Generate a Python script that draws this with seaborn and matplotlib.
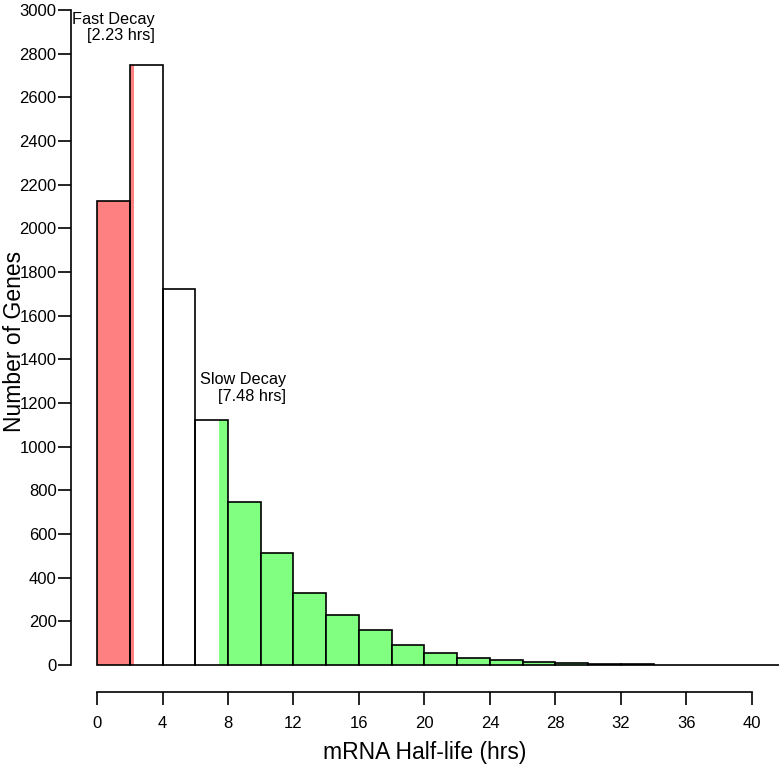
import numpy as np
import pandas as pd
import matplotlib
matplotlib.use('Agg')
import matplotlib.pyplot as plt
import seaborn as sns

# ----------------------------------------------------------
# Data (bins of 2 hrs)
# ----------------------------------------------------------
bin_edges = list(range(0, 44, 2))
gene_counts = [2125, 2750, 1720, 1120, 745, 515, 330, 228, 160, 92,
               56, 34, 22, 15, 9, 5, 3, 2, 1, 1, 1]
fast_cutoff = 2.23   # hrs
slow_cutoff = 7.48   # hrs
x_ticks = list(range(0, 41, 4))
y_ticks = list(range(0, 3001, 200))

red = '#FF8080'
green = '#80FF80'

bin_width = bin_edges[1] - bin_edges[0]
df = pd.DataFrame({'half_life': np.array(bin_edges[:-1]) + bin_width / 2,
                   'genes': gene_counts})
df['group'] = np.where(df['half_life'] < fast_cutoff, 'fast',
                       np.where(df['half_life'] > slow_cutoff, 'slow', 'mid'))

# ----------------------------------------------------------
# Plot
# ----------------------------------------------------------
sns.set_style('ticks')
plt.rcParams['font.family'] = ['Liberation Sans', 'DejaVu Sans']
plt.rcParams['text.color'] = 'black'
plt.rcParams['axes.labelcolor'] = 'black'

fig = plt.figure(figsize=(7.84, 7.70), dpi=100)
ax = fig.add_axes([71 / 784, 1 - 675 / 770, 708 / 784, 667 / 770])

# coloured slivers inside the bins holding the cut-offs
i_fast = int(fast_cutoff // bin_width)
i_slow = int(slow_cutoff // bin_width)
ax.bar(bin_edges[i_fast], gene_counts[i_fast], width=fast_cutoff - bin_edges[i_fast],
       align='edge', color=red, linewidth=0, zorder=0.5)
ax.bar(slow_cutoff, gene_counts[i_slow], width=bin_edges[i_slow + 1] - slow_cutoff,
       align='edge', color=green, linewidth=0, zorder=0.5)

for grp, colr in [('fast', red), ('mid', None), ('slow', green)]:
    sub = df[df['group'] == grp]
    lo = sub['half_life'].min() - bin_width / 2
    hi = sub['half_life'].max() + bin_width / 2
    edges = [float(e) for e in np.arange(lo, hi + 0.01, bin_width)]
    if colr is None:
        sns.histplot(data=sub, x='half_life', weights='genes', bins=edges,
                     fill=False, color='black', linewidth=1.2, alpha=1, ax=ax)
    else:
        sns.histplot(data=sub, x='half_life', weights='genes', bins=edges,
                     color=colr, edgecolor='black', linewidth=1.2, alpha=1, ax=ax)

ax.set_xlim(-1.588, 41.65)
ax.set_ylim(-45.8, 3009.2)

sns.despine(ax=ax)
ax.spines['left'].set_bounds(0, 3000)
ax.spines['bottom'].set_bounds(0, 40)
ax.spines['bottom'].set_position(('outward', 12.2))
for s in ['left', 'bottom']:
    ax.spines[s].set_linewidth(1.2)
    ax.spines[s].set_color('black')

ax.set_xticks(x_ticks)
ax.set_yticks(y_ticks)
ax.tick_params(axis='both', direction='out', length=9.4, width=1.2,
               color='black', labelsize=12, labelcolor='black')
ax.tick_params(axis='y', pad=1)
ax.tick_params(axis='x', pad=8)

ax.set_xlabel('mRNA Half-life (hrs)', fontsize=16.5, labelpad=7)
ax.set_ylabel('Number of Genes', fontsize=16.5)
ax.yaxis.set_label_coords(-0.064, 0.5)

ax.text(3.54, 2990, 'Fast Decay\n[%.2f hrs]' % fast_cutoff, ha='right', va='top',
        multialignment='right', fontsize=11.7, linespacing=1.1)
ax.text(11.54, 1340, 'Slow Decay\n[%.2f hrs]' % slow_cutoff, ha='right', va='top',
        multialignment='right', fontsize=11.7, linespacing=1.1)

fig.savefig('out.png', dpi=100)
